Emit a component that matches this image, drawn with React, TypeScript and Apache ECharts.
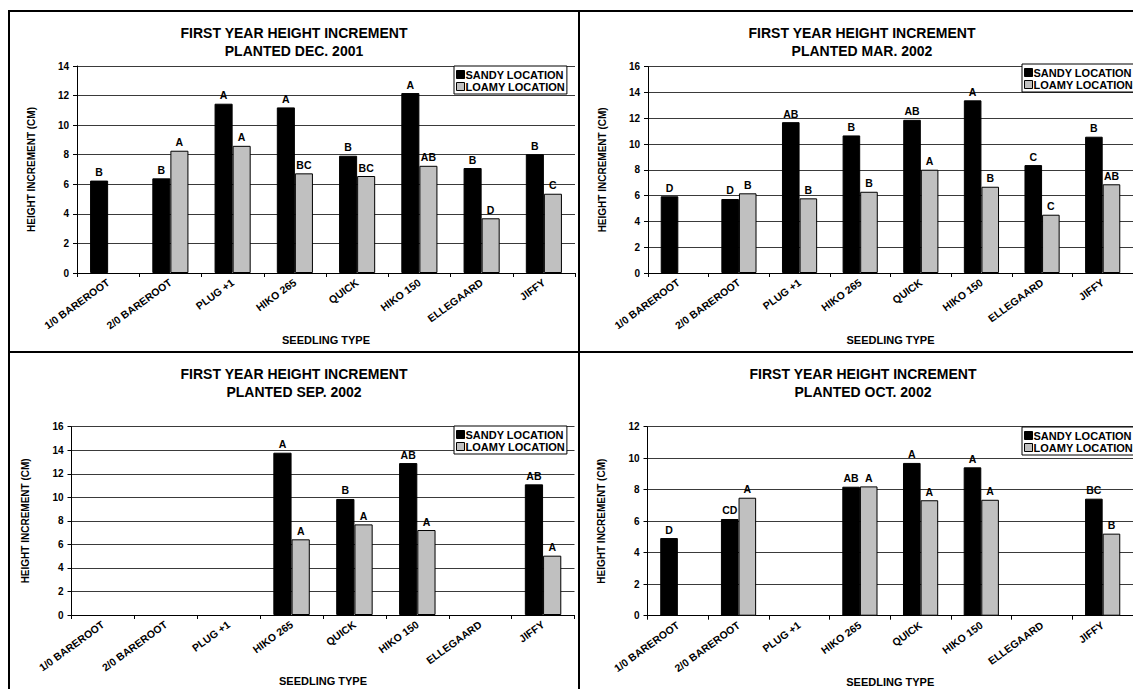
import React, { useEffect, useRef } from 'react';
import * as echarts from 'echarts';

const categories = ['1/0 BAREROOT', '2/0 BAREROOT', 'PLUG +1', 'HIKO 265', 'QUICK', 'HIKO 150', 'ELLEGAARD', 'JIFFY'];
const seriesNames = ['SANDY LOCATION', 'LOAMY LOCATION'];
const yTitle = 'HEIGHT INCREMENT (CM)';
const xTitle = 'SEEDLING TYPE';

const dec2001Sandy = [6.25, 6.4, 11.45, 11.2, 7.93, 12.17, 7.1, 8.03];
const dec2001Loamy = [null, 8.27, 8.6, 6.74, 6.56, 7.25, 3.7, 5.36];
const dec2001SandyLetters = ['B', 'B', 'A', 'A', 'B', 'A', 'B', 'B'];
const dec2001LoamyLetters = ['', 'A', 'A', 'BC', 'BC', 'AB', 'D', 'C'];

const mar2002Sandy = [5.95, 5.74, 11.7, 10.67, 11.88, 13.39, 8.37, 10.57];
const mar2002Loamy = [null, 6.18, 5.79, 6.3, 8.01, 6.69, 4.52, 6.88];
const mar2002SandyLetters = ['D', 'D', 'AB', 'B', 'AB', 'A', 'C', 'B'];
const mar2002LoamyLetters = ['', 'B', 'B', 'B', 'A', 'B', 'C', 'AB'];

const sep2002Sandy = [null, null, null, 13.79, 9.86, 12.91, null, 11.1];
const sep2002Loamy = [null, null, null, 6.43, 7.7, 7.22, null, 5.04];
const sep2002SandyLetters = ['', '', '', 'A', 'B', 'AB', '', 'AB'];
const sep2002LoamyLetters = ['', '', '', 'A', 'A', 'A', '', 'A'];

const oct2002Sandy = [4.93, 6.14, null, 8.19, 9.7, 9.42, null, 7.43];
const oct2002Loamy = [null, 7.49, null, 8.21, 7.33, 7.36, null, 5.21];
const oct2002SandyLetters = ['D', 'CD', '', 'AB', 'A', 'A', '', 'BC'];
const oct2002LoamyLetters = ['', 'A', '', 'A', 'A', 'A', '', 'B'];

const panelTitles = [
  'FIRST YEAR HEIGHT INCREMENT\nPLANTED DEC. 2001',
  'FIRST YEAR HEIGHT INCREMENT\nPLANTED MAR. 2002',
  'FIRST YEAR HEIGHT INCREMENT\nPLANTED SEP. 2002',
  'FIRST YEAR HEIGHT INCREMENT\nPLANTED OCT. 2002',
];
const yMaxes = [14, 16, 16, 12];
const yInterval = 2;

const panelData = [
  { sandy: dec2001Sandy, loamy: dec2001Loamy, sL: dec2001SandyLetters, lL: dec2001LoamyLetters },
  { sandy: mar2002Sandy, loamy: mar2002Loamy, sL: mar2002SandyLetters, lL: mar2002LoamyLetters },
  { sandy: sep2002Sandy, loamy: sep2002Loamy, sL: sep2002SandyLetters, lL: sep2002LoamyLetters },
  { sandy: oct2002Sandy, loamy: oct2002Loamy, sL: oct2002SandyLetters, lL: oct2002LoamyLetters },
];

const layout = [
  { grid: { left: 77, top: 66, width: 498, height: 207 }, titleX: 294, titleY: 24, legend: { left: 454, top: 66 }, xNameGap: 61 },
  { grid: { left: 648, top: 66.7, width: 496, height: 206.3 }, titleX: 862, titleY: 24, legend: { left: 1022, top: 64 }, xNameGap: 61 },
  { grid: { left: 71.5, top: 426.7, width: 503, height: 188.3 }, titleX: 294, titleY: 365, legend: { left: 454, top: 426 }, xNameGap: 60 },
  { grid: { left: 647.5, top: 426.7, width: 496, height: 189 }, titleX: 863, titleY: 365, legend: { left: 1022, top: 427 }, xNameGap: 60 },
];

const FONT = '"Liberation Sans", Arial, Helvetica, sans-serif';
const SANDY = '#000000';
const LOAMY = '#c0c0c0';

function buildOption() {
  const grid: any[] = [];
  const xAxis: any[] = [];
  const yAxis: any[] = [];
  const series: any[] = [];
  const legend: any[] = [];
  const graphic: any[] = [];

  panelData.forEach((p, i) => {
    const L = layout[i];
    grid.push({ ...L.grid, containLabel: false });
    xAxis.push({
      type: 'category',
      gridIndex: i,
      data: categories,
      name: xTitle,
      nameLocation: 'middle',
      nameGap: L.xNameGap,
      nameTextStyle: { fontFamily: FONT, fontSize: 11, fontWeight: 'bold', color: '#000' },
      axisLine: { lineStyle: { color: '#000', width: 1 } },
      axisTick: { show: true, length: 4, lineStyle: { color: '#000' }, alignWithLabel: false },
      axisLabel: { interval: 0, rotate: 36, margin: 8, fontFamily: FONT, fontSize: 10.5, fontWeight: 'bold', color: '#000' },
      splitLine: { show: false },
    });
    yAxis.push({
      type: 'value',
      gridIndex: i,
      min: 0,
      max: yMaxes[i],
      interval: yInterval,
      name: yTitle,
      nameLocation: 'middle',
      nameGap: 41,
      nameTextStyle: { fontFamily: FONT, fontSize: 10, fontWeight: 'bold', color: '#000' },
      axisLine: { show: true, lineStyle: { color: '#000', width: 1 } },
      axisTick: { show: true, length: 4, lineStyle: { color: '#000' } },
      axisLabel: { margin: 8, fontFamily: FONT, fontSize: 10, fontWeight: 'bold', color: '#000' },
      splitLine: { show: true, lineStyle: { color: '#3a3a3a', width: 1 } },
    });
    const mk = (name: string, data: any[], letters: string[], color: string) => ({
      type: 'bar',
      name,
      xAxisIndex: i,
      yAxisIndex: i,
      data,
      barGap: '0%',
      barCategoryGap: '42%',
      itemStyle: { color, borderColor: '#000', borderWidth: 1 },
      label: {
        show: true,
        position: 'top',
        distance: 3,
        fontFamily: FONT,
        fontSize: 10.5,
        fontWeight: 'bold',
        color: '#000',
        formatter: (q: any) => letters[q.dataIndex] || '',
      },
      emphasis: { disabled: true },
    });
    series.push(mk(seriesNames[0], p.sandy, p.sL, SANDY));
    series.push(mk(seriesNames[1], p.loamy, p.lL, LOAMY));

    legend.push({
      orient: 'vertical',
      left: L.legend.left,
      top: L.legend.top,
      itemWidth: 8,
      itemHeight: 8,
      itemGap: 1,
      padding: [3, 2, 2, 2],
      borderColor: '#000',
      borderWidth: 1,
      borderRadius: 0,
      backgroundColor: '#fff',
      selectedMode: false,
      icon: 'rect',
      textStyle: { fontFamily: FONT, fontSize: 11, fontWeight: 'bold', color: '#000', padding: [0, 0, 0, -4] },
      data: [
        { name: seriesNames[0], itemStyle: { color: SANDY, borderColor: '#000', borderWidth: 1 } },
        { name: seriesNames[1], itemStyle: { color: LOAMY, borderColor: '#000', borderWidth: 1 } },
      ],
    });

    graphic.push({
      type: 'text',
      x: L.titleX,
      y: L.titleY,
      style: {
        text: panelTitles[i],
        fontFamily: FONT,
        fontSize: 14,
        fontWeight: 'bold',
        fill: '#000',
        align: 'center',
        verticalAlign: 'top',
        lineHeight: 18,
      },
    });
  });

  const frame = { stroke: '#000', lineWidth: 2 };
  graphic.push(
    { type: 'line', shape: { x1: 9, y1: 11, x2: 1133, y2: 11 }, style: frame },
    { type: 'line', shape: { x1: 9, y1: 10, x2: 9, y2: 689 }, style: frame },
    { type: 'line', shape: { x1: 579, y1: 10, x2: 579, y2: 689 }, style: frame },
    { type: 'line', shape: { x1: 8, y1: 352, x2: 1133, y2: 352 }, style: frame },
  );

  return {
    animation: false,
    backgroundColor: '#fff',
    grid,
    xAxis,
    yAxis,
    series,
    legend,
    graphic,
  };
}

export default function App() {
  const ref = useRef<HTMLDivElement>(null);
  useEffect(() => {
    if (!ref.current) return;
    const chart = echarts.init(ref.current, undefined, { renderer: 'svg' });
    chart.setOption(buildOption() as any);
    return () => chart.dispose();
  }, []);
  return (
    <div
      ref={ref}
      style={{ position: 'fixed', left: 0, top: 0, width: 1133, height: 689, background: '#fff' }}
    />
  );
}
